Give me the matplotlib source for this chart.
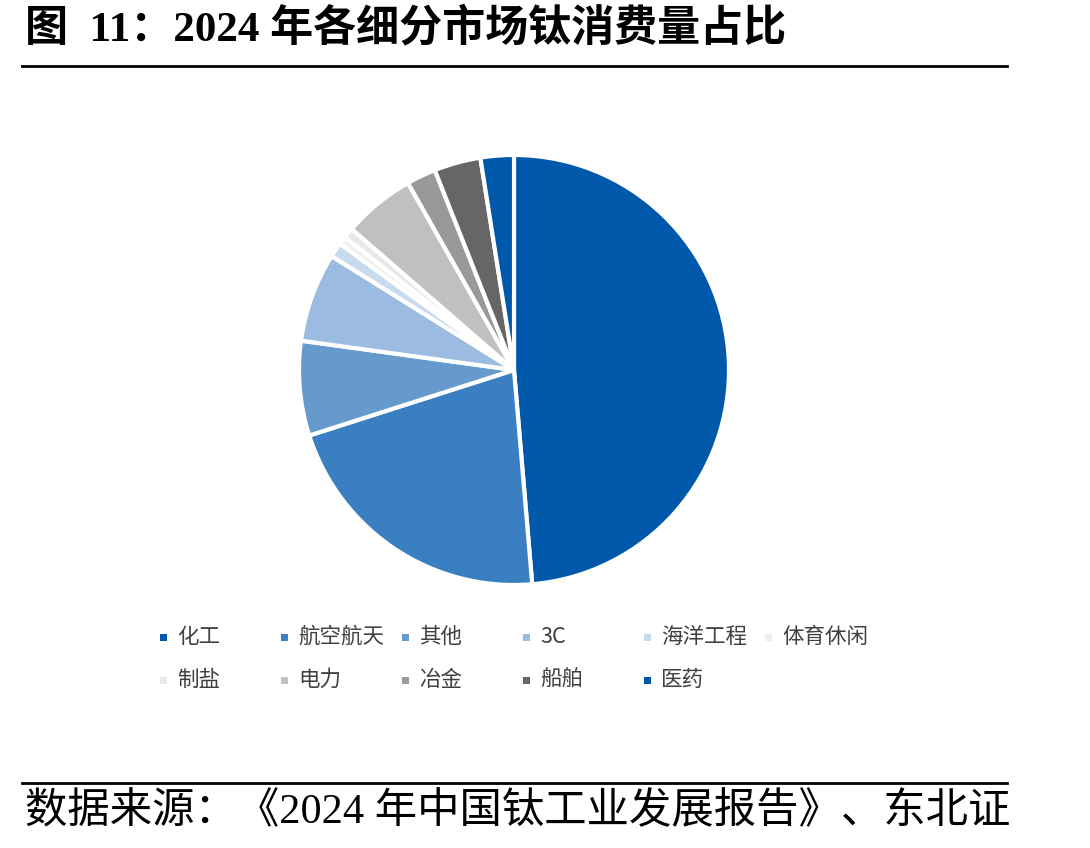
import matplotlib
matplotlib.use("Agg")
import matplotlib.pyplot as plt
from matplotlib.patches import Rectangle
from matplotlib.lines import Line2D

categories = ["化工", "航空航天", "其他", "3C", "海洋工程", "体育休闲",
              "制盐", "电力", "冶金", "船舶", "医药"]
shares = [48.6, 21.4, 7.1, 6.7, 1.1, 0.6, 0.8, 5.4, 2.2, 3.5, 2.5]
colors = ["#0058AB", "#3A7FC1", "#6699CC", "#9BBCE0", "#C8DAEE", "#F2EFE8",
          "#E8E8E8", "#C0C0C0", "#999999", "#666666", "#0058AB"]

title = "图  11：2024 年各细分市场钛消费量占比"
source = "数据来源：《2024 年中国钛工业发展报告》、东北证"

W, H = 1090, 848
fig = plt.figure(figsize=(W / 100, H / 100), dpi=100)
fig.patch.set_facecolor("white")

cx, cy, r = 514, 370, 215
ax = fig.add_axes([(cx - r) / W, (H - cy - r) / H, 2 * r / W, 2 * r / H])
ax.pie(shares, colors=colors, startangle=90, counterclock=False,
       wedgeprops=dict(edgecolor="white", linewidth=3))
ax.set_xlim(-1, 1)
ax.set_ylim(-1, 1)
ax.axis("off")

fam_title = ["Liberation Serif", "Noto Sans CJK SC"]
fig.text(25 / W, 1 - 28 / H, title, fontsize=31, fontweight="bold",
         family=fam_title, va="center", ha="left", color="black")
fig.text(25 / W, 1 - 812 / H, source, fontsize=30.5,
         family=fam_title, va="center", ha="left", color="black")

for yy in (66, 783):
    fig.add_artist(Line2D([22 / W, 1007 / W], [1 - yy / H, 1 - yy / H],
                          color="black", linewidth=2, transform=fig.transFigure))

x0, dx = 163, 121
rows_y = [637, 680]
for i, (lab, col) in enumerate(zip(categories, colors)):
    c, rw = i % 6, i // 6
    mx = x0 + c * dx
    my = rows_y[rw]
    s = 7
    fig.add_artist(Rectangle(((mx - s / 2) / W, 1 - (my + s / 2) / H), s / W, s / H,
                             facecolor=col, edgecolor="none", transform=fig.transFigure))
    fig.text((mx + 14) / W, 1 - my / H, lab, fontsize=15.5,
             family=["Noto Sans CJK SC", "DejaVu Sans"], va="center", ha="left",
             color="#404040")

fig.savefig("out.png", dpi=100, facecolor="white")
